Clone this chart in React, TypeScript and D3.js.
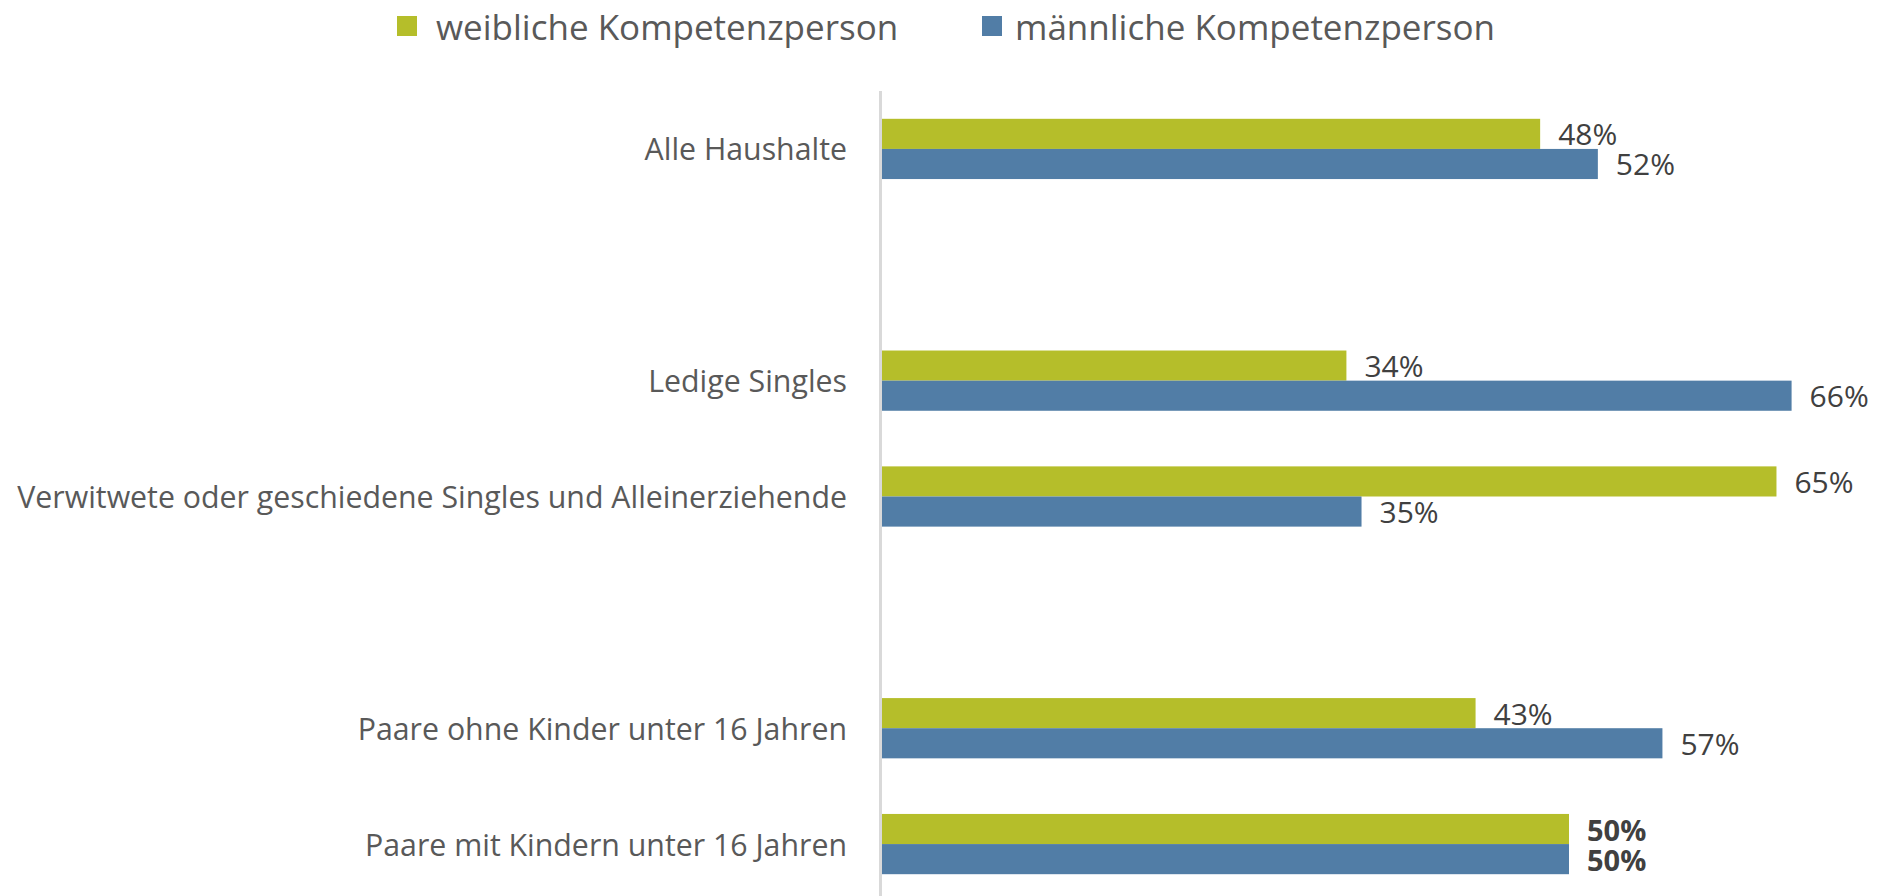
import React from "react";
import * as d3 from "d3";

const categories = [
  "Alle Haushalte",
  "",
  "Ledige Singles",
  "Verwitwete oder geschiedene Singles und Alleinerziehende",
  " ",
  "Paare ohne Kinder unter 16 Jahren",
  "Paare mit Kindern unter 16 Jahren",
];
const femaleValues = [47.9, null, 33.8, 65.1, null, 43.2, 50];
const maleValues = [52.1, null, 66.2, 34.9, null, 56.8, 50];
const femaleLabels = ["48%", "", "34%", "65%", "", "43%", "50%"];
const maleLabels = ["52%", "", "66%", "35%", "", "57%", "50%"];
const boldLabel = [false, false, false, false, false, false, true];
const seriesNames = ["weibliche Kompetenzperson", "männliche Kompetenzperson"];
const seriesColors = ["#B5BE2A", "#517DA6"];

const W = 1881;
const H = 896;
const FONT = "'Open Sans', sans-serif";

export default function App() {
  const x = d3.scaleLinear().domain([0, 100]).range([882, 882 + 1374]);
  const y = d3
    .scaleBand<string>()
    .domain(categories)
    .range([91, 902])
    .paddingInner(0.48)
    .paddingOuter(0.24);
  const sub = d3
    .scaleBand<string>()
    .domain(seriesNames)
    .range([0, y.bandwidth()]);

  const series = [
    { name: seriesNames[0], values: femaleValues, labels: femaleLabels, color: seriesColors[0] },
    { name: seriesNames[1], values: maleValues, labels: maleLabels, color: seriesColors[1] },
  ];

  const legendItems = [
    { name: seriesNames[0], color: seriesColors[0], sx: 397, tx: 436 },
    { name: seriesNames[1], color: seriesColors[1], sx: 982, tx: 1015 },
  ];

  return (
    <svg
      width={W}
      height={H}
      style={{ position: "absolute", left: 0, top: 0, background: "#fff" }}
      fontFamily={FONT}
    >
      {/* legend */}
      {legendItems.map((l) => (
        <g key={l.name}>
          <rect x={l.sx} y={16} width={20} height={20} fill={l.color} />
          <text
            x={l.tx}
            y={26}
            dominantBaseline="central"
            fontSize={35}
            fill="#595959"
          >
            {l.name}
          </text>
        </g>
      ))}

      {/* category labels */}
      {categories.map((c) =>
        c.trim() === "" ? null : (
          <text
            key={c}
            x={847}
            y={(y(c) as number) + y.bandwidth() / 2}
            textAnchor="end"
            dominantBaseline="central"
            fontSize={30.3}
            fill="#595959"
          >
            {c}
          </text>
        )
      )}

      {/* bars */}
      {series.map((s) =>
        categories.map((c, i) => {
          const v = s.values[i];
          if (v === null) return null;
          const by = (y(c) as number) + (sub(s.name) as number);
          return (
            <g key={s.name + i}>
              <rect
                x={x(0)}
                y={by}
                width={x(v) - x(0)}
                height={sub.bandwidth()}
                fill={s.color}
              />
              <text
                x={x(v) + 18}
                y={by + sub.bandwidth() / 2}
                dominantBaseline="central"
                fontSize={boldLabel[i] ? 29 : 30}
                fontWeight={boldLabel[i] ? 700 : 400}
                fill="#404040"
              >
                {s.labels[i]}
              </text>
            </g>
          );
        })
      )}

      {/* axis line */}
      <line x1={880.5} x2={880.5} y1={91} y2={H} stroke="#D9D9D9" strokeWidth={3} />
    </svg>
  );
}
